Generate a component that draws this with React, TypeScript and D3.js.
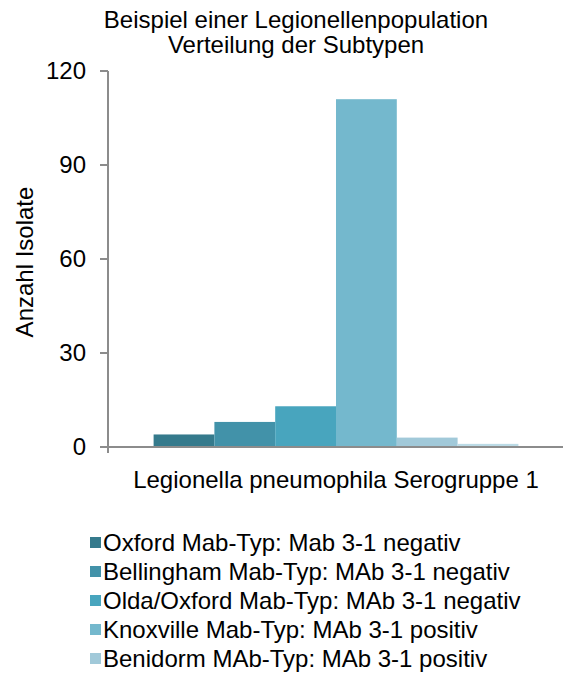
import React from "react";
import * as d3 from "d3";

const titleLines = ["Beispiel einer Legionellenpopulation", "Verteilung der Subtypen"];
const category = "Legionella pneumophila Serogruppe 1";
const yAxisTitle = "Anzahl Isolate";
// Legend entries visible in the frame (the sixth entry lies below the picture's edge)
const seriesNames = [
  "Oxford Mab-Typ: Mab 3-1 negativ",
  "Bellingham Mab-Typ: MAb 3-1 negativ",
  "Olda/Oxford Mab-Typ: MAb 3-1 negativ",
  "Knoxville Mab-Typ: MAb 3-1 positiv",
  "Benidorm MAb-Typ: MAb 3-1 positiv",
];
const seriesValues = [4, 8, 13, 111, 3, 1];
const seriesColors = ["#357a8c", "#4292a9", "#48a5be", "#74b8cd", "#a1c9d9", "#bcdbe6"];
const yTicks = [0, 30, 60, 90, 120];

const W = 563;
const H = 676;
const FONT = "'Liberation Sans', Arial, sans-serif";
const plot = { left: 108, right: 564, top: 71, bottom: 447 };

export default function App() {
  const y = d3.scaleLinear().domain([0, 120]).range([plot.bottom, plot.top]);
  const xCat = d3
    .scaleBand()
    .domain([category])
    .range([plot.left, plot.right])
    .paddingInner(0)
    .paddingOuter(0.125);
  const x = d3
    .scaleBand<number>()
    .domain(d3.range(seriesValues.length))
    .range([xCat(category)!, xCat(category)! + xCat.bandwidth()])
    .padding(0);
  const axisColor = "#8c8c8c";
  return (
    <svg
      width={W}
      height={H}
      style={{ position: "absolute", left: 0, top: 0, background: "#fff" }}
      fontFamily={FONT}
    >
      <text textAnchor="middle" fontSize={24} fill="#000">
        {titleLines.map((t, i) => (
          <tspan key={i} x={296} y={28 + i * 25}>
            {t}
          </tspan>
        ))}
      </text>
      {seriesValues.map((v, i) => (
        <rect
          key={i}
          x={x(i)}
          y={y(v)}
          width={x.bandwidth()}
          height={plot.bottom - y(v)}
          fill={seriesColors[i]}
        />
      ))}
      <line x1={plot.left} x2={plot.left} y1={plot.top} y2={plot.bottom + 6} stroke={axisColor} strokeWidth={2} />
      <line x1={plot.left} x2={plot.right} y1={plot.bottom} y2={plot.bottom} stroke={axisColor} strokeWidth={2} />
      {yTicks.map((t) => (
        <g key={t}>
          <line x1={plot.left - 8} x2={plot.left} y1={y(t)} y2={y(t)} stroke={axisColor} strokeWidth={2} />
          <text x={86} y={y(t)} dy="0.35em" textAnchor="end" fontSize={24} fill="#000">
            {t}
          </text>
        </g>
      ))}
      <text
        transform={`translate(33, ${(plot.top + plot.bottom) / 2 + 3}) rotate(-90)`}
        textAnchor="middle"
        fontSize={24}
        fill="#000"
      >
        {yAxisTitle}
      </text>
      <text x={xCat(category)! + xCat.bandwidth() / 2} y={488} textAnchor="middle" fontSize={24} fill="#000">
        {category}
      </text>
      {seriesNames.map((n, i) => (
        <g key={n} transform={`translate(0, ${543 + i * 29})`}>
          <rect x={90} y={-6} width={11} height={11} fill={seriesColors[i]} />
          <text x={103} y={0} dy="0.35em" fontSize={24} fill="#000">
            {n}
          </text>
        </g>
      ))}
    </svg>
  );
}
